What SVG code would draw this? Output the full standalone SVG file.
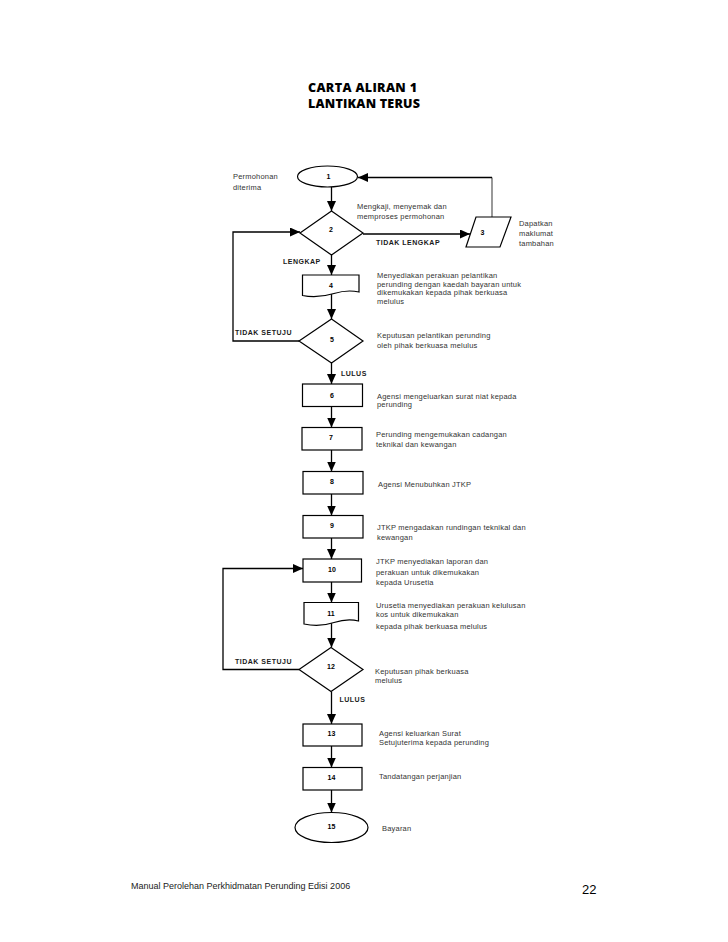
<svg xmlns="http://www.w3.org/2000/svg" width="728" height="942" viewBox="0 0 728 942">
<defs>
<marker id="ah" viewBox="0 0 10 9" refX="10" refY="4.5" markerWidth="10" markerHeight="9" markerUnits="userSpaceOnUse" orient="auto">
<path d="M0,0 L10,4.5 L0,9 Z" fill="#000"/>
</marker>
<style>
.shape{fill:#fff;stroke:#000;stroke-width:1.2}
.con{fill:none;stroke:#000;stroke-width:1.3}
.num{font-family:"Liberation Sans",Arial,sans-serif;font-size:7px;font-weight:bold;fill:#000;text-anchor:middle}
.lbl{font-family:"Liberation Sans",Arial,sans-serif;font-size:7px;font-weight:bold;fill:#1a1a1a;letter-spacing:0.5px}
.txt{font-family:"Liberation Sans",Arial,sans-serif;font-size:7.5px;fill:#333;letter-spacing:0.2px}
.title{font-family:"Open Sans",Lato,sans-serif;font-size:12.5px;font-weight:800;fill:#000}
.foot{font-family:"Liberation Sans",Arial,sans-serif;font-size:9px;fill:#222}
</style>
</defs>
<rect width="728" height="942" fill="#fff"/>

<g id="title">
<text class="title" x="308" y="92" textLength="109" lengthAdjust="spacing">CARTA ALIRAN 1</text>
<text class="title" x="308" y="108" textLength="112" lengthAdjust="spacing">LANTIKAN TERUS</text>
</g>

<g id="connectors">
<line class="con" x1="331.5" y1="187" x2="331.5" y2="211" marker-end="url(#ah)"/>
<line class="con" x1="363" y1="234" x2="470" y2="234" marker-end="url(#ah)"/>
<polyline points="492,217 492,177.5" fill="none" stroke="#808080" stroke-width="1.6"/>
<polyline class="con" points="492,177.5 358,177.5" marker-end="url(#ah)"/>
<line class="con" x1="331.5" y1="255" x2="331.5" y2="275" marker-end="url(#ah)"/>
<line class="con" x1="331.5" y1="294" x2="331.5" y2="319" marker-end="url(#ah)"/>
<polyline class="con" points="299,341 233,341 233,232 300,232" marker-end="url(#ah)"/>
<line class="con" x1="331.5" y1="363" x2="331.5" y2="384" marker-end="url(#ah)"/>
<line class="con" x1="331.5" y1="406.5" x2="331.5" y2="427.5" marker-end="url(#ah)"/>
<line class="con" x1="331.5" y1="450" x2="331.5" y2="471.5" marker-end="url(#ah)"/>
<line class="con" x1="331.5" y1="494" x2="331.5" y2="515.5" marker-end="url(#ah)"/>
<line class="con" x1="331.5" y1="538" x2="331.5" y2="559" marker-end="url(#ah)"/>
<line class="con" x1="331.5" y1="582" x2="331.5" y2="602.5" marker-end="url(#ah)"/>
<line class="con" x1="331.5" y1="623" x2="331.5" y2="647.5" marker-end="url(#ah)"/>
<polyline class="con" points="299,669.5 223,669.5 223,568.5 303,568.5" marker-end="url(#ah)"/>
<line class="con" x1="331.5" y1="691.5" x2="331.5" y2="724" marker-end="url(#ah)"/>
<line class="con" x1="331.5" y1="746" x2="331.5" y2="767.5" marker-end="url(#ah)"/>
<line class="con" x1="331.5" y1="790" x2="331.5" y2="812.5" marker-end="url(#ah)"/>
<text class="lbl" x="376" y="244.5">TIDAK LENGKAP</text>
<text class="lbl" x="283" y="263.5">LENGKAP</text>
<text class="lbl" x="235" y="334.5">TIDAK SETUJU</text>
<text class="lbl" x="341" y="375.5">LULUS</text>
<text class="lbl" x="235" y="664">TIDAK SETUJU</text>
<text class="lbl" x="339.5" y="702">LULUS</text>
</g>

<g id="node1">
<ellipse class="shape" cx="327.5" cy="176.5" rx="30" ry="10.5"/>
<text class="num" x="328.5" y="179">1</text>
<text class="txt" x="233" y="179">Permohonan</text>
<text class="txt" x="233" y="189.5">diterima</text>
</g>

<g id="node2">
<polygon class="shape" points="331.5,211 363,233 331.5,255 300,233"/>
<text class="num" x="331" y="231.5">2</text>
<text class="txt" x="357" y="209">Mengkaji, menyemak dan</text>
<text class="txt" x="357" y="219">memproses permohonan</text>
</g>

<g id="node3">
<polygon class="shape" points="476,217 511,217 500,247 466,247"/>
<text class="num" x="482.5" y="234.5">3</text>
<text class="txt" x="519" y="225.5">Dapatkan</text>
<text class="txt" x="519" y="235.5">maklumat</text>
<text class="txt" x="519" y="246">tambahan</text>
</g>

<g id="node4">
<path class="shape" d="M302.5,275 H359 V292 C350,290 342,291 334,293.5 C324,296.5 312,297.5 302.5,295.5 Z"/>
<text class="num" x="331" y="287.5">4</text>
<text class="txt" x="377" y="277.7">Menyediakan perakuan pelantikan</text>
<text class="txt" x="377" y="286.7">perunding dengan kaedah bayaran untuk</text>
<text class="txt" x="377" y="295.4">dikemukakan kepada pihak berkuasa</text>
<text class="txt" x="377" y="304.4">melulus</text>
</g>

<g id="node5">
<polygon class="shape" points="331.5,319 363,341 331.5,363 299,341"/>
<text class="num" x="332" y="342">5</text>
<text class="txt" x="377" y="338">Keputusan pelantikan perunding</text>
<text class="txt" x="377" y="348">oleh pihak berkuasa melulus</text>
</g>

<g id="node6">
<rect class="shape" x="302.5" y="384" width="60" height="22.5"/>
<text class="num" x="332" y="397.5">6</text>
<text class="txt" x="377" y="398.5">Agensi mengeluarkan surat niat kepada</text>
<text class="txt" x="377" y="407">perunding</text>
</g>

<g id="node7">
<rect class="shape" x="302" y="427.5" width="60" height="22.5"/>
<text class="num" x="331" y="440">7</text>
<text class="txt" x="376" y="437">Perunding mengemukakan cadangan</text>
<text class="txt" x="376" y="447">teknikal dan kewangan</text>
</g>

<g id="node8">
<rect class="shape" x="303" y="471.5" width="60" height="22.5"/>
<text class="num" x="332" y="484">8</text>
<text class="txt" x="378" y="487">Agensi Menubuhkan JTKP</text>
</g>

<g id="node9">
<rect class="shape" x="303" y="515.5" width="60" height="22.5"/>
<text class="num" x="332" y="528">9</text>
<text class="txt" x="377" y="530">JTKP mengadakan rundingan teknikal dan</text>
<text class="txt" x="377" y="539.5">kewangan</text>
</g>

<g id="node10">
<rect class="shape" x="303" y="559" width="58.5" height="23"/>
<text class="num" x="332" y="571.5">10</text>
<text class="txt" x="376" y="564">JTKP menyediakan laporan dan</text>
<text class="txt" x="376" y="574.5">perakuan untuk dikemukakan</text>
<text class="txt" x="376" y="584.5">kepada Urusetia</text>
</g>

<g id="node11">
<path class="shape" d="M304,602.5 H358.5 V621 C350,619 342,620 334,622.5 C325,625.5 313,626 304,624 Z"/>
<text class="num" x="331" y="615.8">11</text>
<text class="txt" x="376" y="608">Urusetia menyediakan  perakuan kelulusan</text>
<text class="txt" x="376" y="617">kos untuk dikemukakan</text>
<text class="txt" x="376" y="628.5">kepada pihak berkuasa melulus</text>
</g>

<g id="node12">
<polygon class="shape" points="331,647.5 363,669.5 331,691.5 299,669.5"/>
<text class="num" x="331" y="669">12</text>
<text class="txt" x="375" y="674">Keputusan  pihak berkuasa</text>
<text class="txt" x="375" y="683">melulus</text>
</g>

<g id="node13">
<rect class="shape" x="303" y="724" width="59" height="22"/>
<text class="num" x="331.5" y="735.8">13</text>
<text class="txt" x="379" y="735.5">Agensi keluarkan Surat</text>
<text class="txt" x="379" y="745">Setujuterima kepada perunding</text>
</g>

<g id="node14">
<rect class="shape" x="303" y="767.5" width="59" height="22.5"/>
<text class="num" x="331.5" y="779.8">14</text>
<text class="txt" x="379" y="778.5">Tandatangan perjanjian</text>
</g>

<g id="node15">
<ellipse class="shape" cx="331.5" cy="827.5" rx="36.5" ry="15"/>
<text class="num" x="331.5" y="828.5">15</text>
<text class="txt" x="382" y="831">Bayaran</text>
</g>

<g id="footer">
<text class="foot" x="131" y="889">Manual Perolehan Perkhidmatan Perunding Edisi 2006</text>
<text x="582" y="893.5" font-family="'Liberation Sans',Arial,sans-serif" font-size="13" fill="#000">22</text>
</g>
</svg>
